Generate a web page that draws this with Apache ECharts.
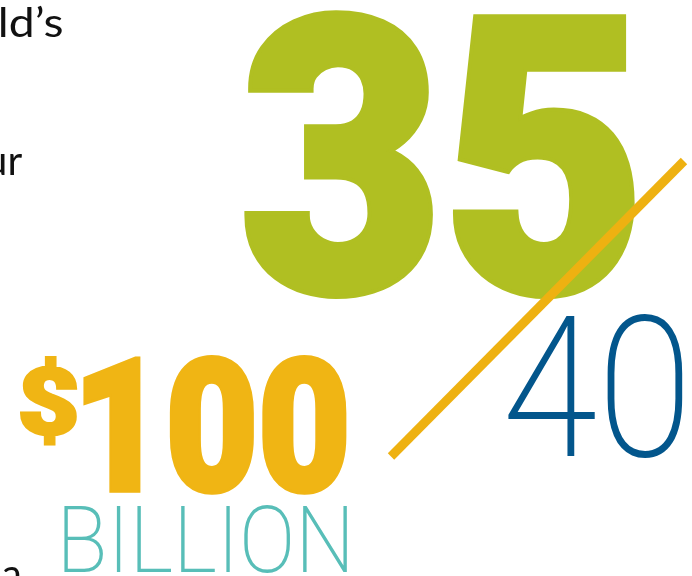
<!DOCTYPE html>
<html><head><meta charset="utf-8">
<script src="https://cdn.jsdelivr.net/npm/echarts@6/dist/echarts.min.js"></script>
<style>html,body{margin:0;padding:0;background:#fff;overflow:hidden}#c{width:692px;height:576px}</style>
</head><body><div id="c"></div>
<script>
// ---- content ----
const fragmentTexts = ['ld’s', 'ur', 'a'];
const ratioValues = ['35', '40'];
const amountPrefix = ['$'];
const amountValues = ['100'];
const amountUnits = ['BILLION'];

// ---- styles ----
const C_GREEN = '#B0BF22', C_BLUE = '#03568C', C_GOLD = '#F0B514', C_SLASH = '#EEB111', C_TEAL = '#58BEB8', C_TEXT = '#111111';
const F_HEAVY = '900 200px Roboto, Inter, "DejaVu Sans", sans-serif';
const F_LIGHT = '200 200px Roboto, Inter, "Noto Sans", sans-serif';
const F_BODY = '400 100px Lato, "Open Sans", "Liberation Sans", sans-serif';

const cv = document.createElement('canvas').getContext('2d');
function measure(text, font) {
  cv.font = font; cv.textAlign = 'left'; cv.textBaseline = 'middle';
  const m = cv.measureText(text);
  return { l: m.actualBoundingBoxLeft, r: m.actualBoundingBoxRight, a: m.actualBoundingBoxAscent, d: m.actualBoundingBoxDescent };
}
function textEl(text, font, fill, x, y, sx, sy, z) {
  return { type: 'text', x: x, y: y, scaleX: sx, scaleY: sy, z: z, silent: true,
    style: { text: text, font: font, fill: fill, textAlign: 'left', textVerticalAlign: 'middle', verticalAlign: 'middle' } };
}
// stretch ink box of text onto [x0,y0,x1,y1]; optional same-colour stroke to embolden
function fitText(text, font, box, fill, z, strokePx) {
  const h = (strokePx || 0) / 2;
  const b = [box[0] + h, box[1] + h, box[2] - h, box[3] - h];
  const m = measure(text, font);
  const sx = (b[2] - b[0]) / (m.l + m.r), sy = (b[3] - b[1]) / (m.a + m.d);
  const el = textEl(text, font, fill, b[0] + sx * m.l, b[1] + sy * m.a, sx, sy, z || 1);
  if (strokePx) {
    el.style.stroke = fill;
    el.style.lineWidth = strokePx / Math.sqrt(sx * sy);
    el.style.lineJoin = 'round';
  }
  return el;
}
// uniform scale, anchor ink left or right edge and ink top
function anchorText(text, font, s, edgeX, side, top, fill) {
  const m = measure(text, font);
  const x = side === 'right' ? edgeX - s * m.r : edgeX + s * m.l;
  return textEl(text, font, fill, x, top + s * m.a, s, s, 1);
}

const bodyFit = fitText(fragmentTexts[0], F_BODY, [1, 5, 62, 37], C_TEXT);
const bodyScale = bodyFit.scaleY;

const chart = echarts.init(document.getElementById('c'), null, { renderer: 'canvas' });
chart.setOption({
  backgroundColor: '#ffffff',
  animation: false,
  graphic: [
    bodyFit,
    anchorText(fragmentTexts[1], F_BODY, bodyScale, 22, 'right', 154, C_TEXT),
    anchorText(fragmentTexts[2], F_BODY, bodyScale, 3, 'left', 567, C_TEXT),
    fitText(ratioValues[0], F_HEAVY, [243, 9, 636, 299], C_GREEN, 1, 8),
    { type: 'line', z: 5, silent: true, shape: { x1: 391, y1: 456.5, x2: 684, y2: 161 },
      style: { stroke: C_SLASH, lineWidth: 9, lineCap: 'butt' } },
    fitText(ratioValues[1], F_LIGHT, [508, 313, 683, 458], C_BLUE, 1),
    fitText(amountPrefix[0], F_HEAVY, [20, 355, 77, 445], C_GOLD, 1, 3),
    fitText(amountValues[0], F_HEAVY, [83, 354, 347, 494], C_GOLD, 1, 5),
    fitText(amountUnits[0], F_LIGHT, [64, 505, 347, 573], C_TEAL, 1)
  ]
});
</script>
</body></html>
